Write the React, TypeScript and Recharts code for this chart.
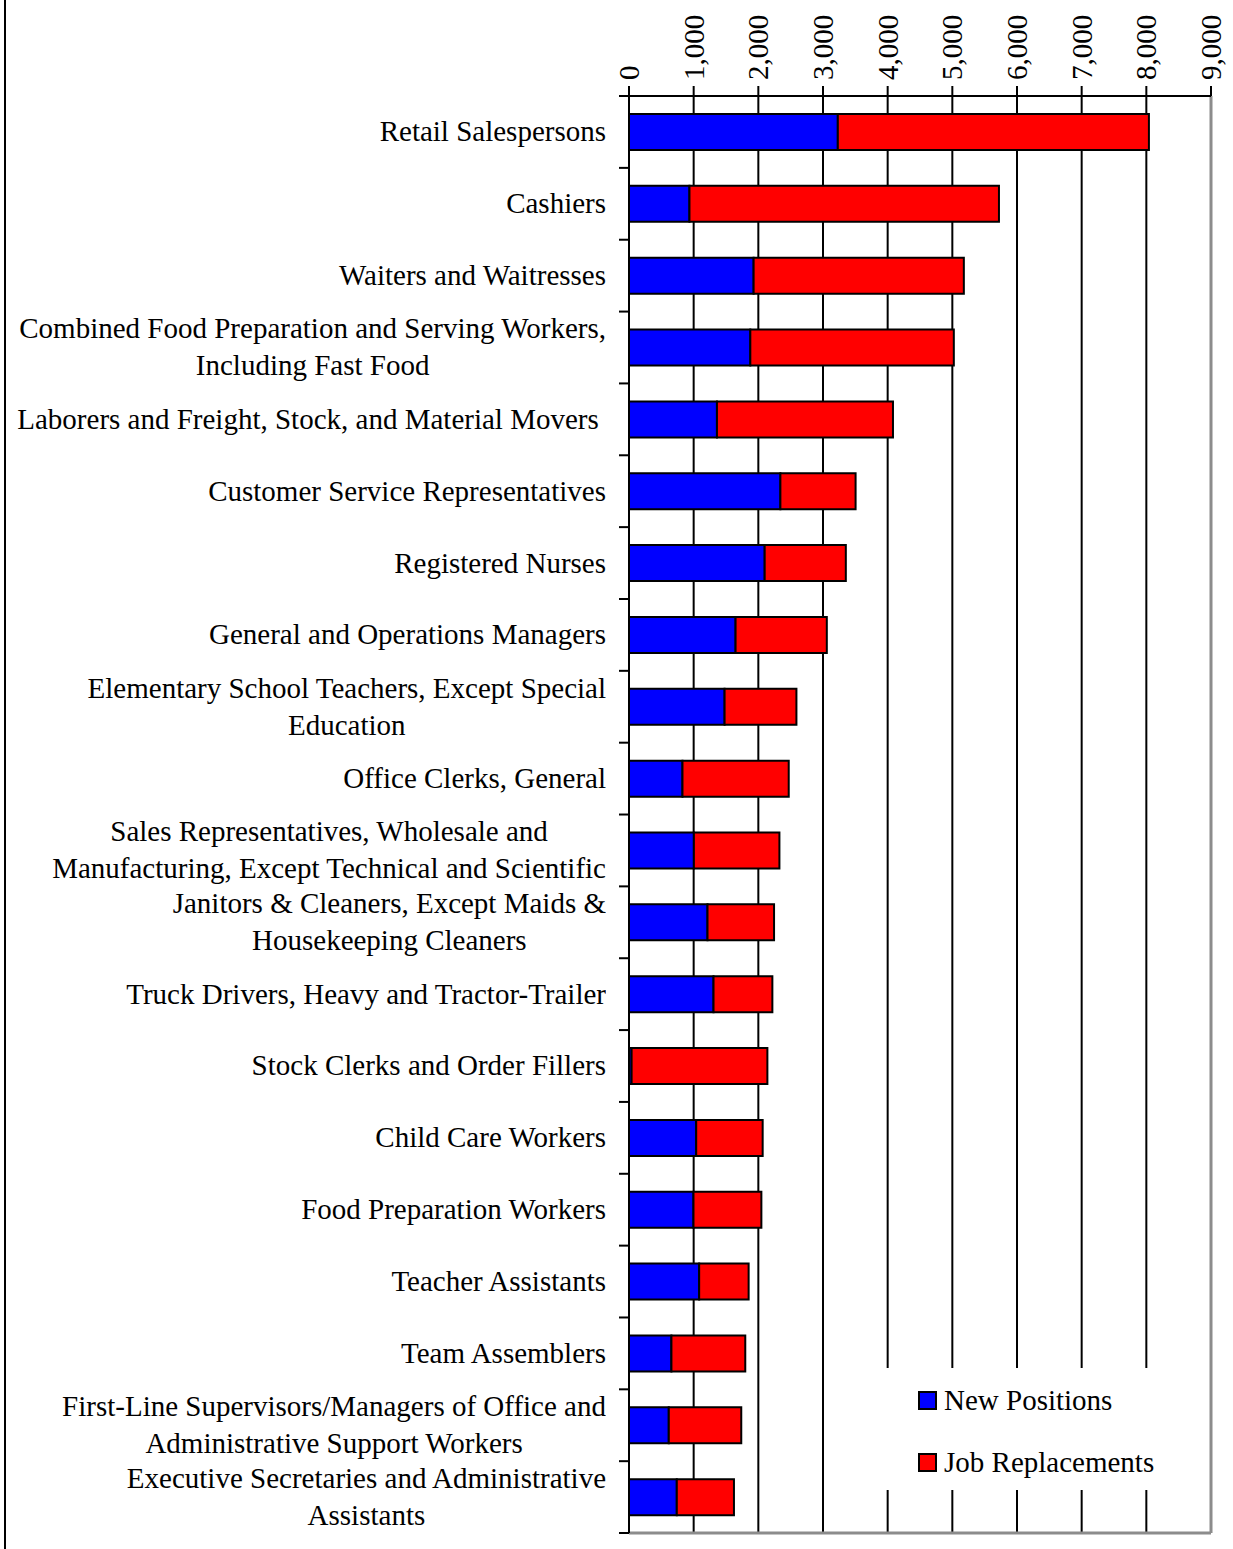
import React from "react";
import {
  BarChart,
  Bar,
  XAxis,
  YAxis,
  CartesianGrid,
  Legend,
  ReferenceLine,
} from "recharts";

const occupations = [
  "Retail Salespersons",
  "Cashiers",
  "Waiters and Waitresses",
  "Combined Food Preparation and Serving Workers,\nIncluding Fast Food",
  "Laborers and Freight, Stock, and Material Movers ",
  "Customer Service Representatives",
  "Registered Nurses",
  "General and Operations Managers",
  "Elementary School Teachers, Except Special\nEducation",
  "Office Clerks, General",
  "Sales Representatives, Wholesale and\nManufacturing, Except Technical and Scientific",
  "Janitors & Cleaners, Except Maids &\nHousekeeping Cleaners",
  "Truck Drivers, Heavy and Tractor-Trailer",
  "Stock Clerks and Order Fillers",
  "Child Care Workers",
  "Food Preparation Workers",
  "Teacher Assistants",
  "Team Assemblers",
  "First-Line Supervisors/Managers of Office and\nAdministrative Support Workers",
  "Executive Secretaries and Administrative\nAssistants",
];

const newPositions = [
  3229, 935, 1927, 1876, 1360, 2341, 2098, 1648, 1478, 827, 1003, 1214, 1307,
  40, 1039, 997, 1085, 656, 615, 739,
];

const jobReplacements = [
  4811, 4786, 3251, 3147, 2722, 1163, 1255, 1411, 1111, 1643, 1323, 1029, 910,
  2100, 1028, 1050, 765, 1142, 1121, 884,
];

const seriesNames = ["New Positions", "Job Replacements"];

const xTicks = [0, 1000, 2000, 3000, 4000, 5000, 6000, 7000, 8000, 9000];

const data = occupations.map((name, i) => ({
  name,
  nuevas: newPositions[i],
  reemplazos: jobReplacements[i],
}));

const FONT = '"Liberation Serif", "Times New Roman", serif';
const W = 1233;
const H = 1549;
const PLOT_LEFT = 629;
const PLOT_TOP = 96;
const PLOT_BOTTOM = 1534;
const BAND = (PLOT_BOTTOM - PLOT_TOP) / occupations.length;

const XTick = (props: any) => {
  const { x, y, payload } = props;
  const ty = y - 4;
  return (
    <text
      x={x}
      y={ty}
      transform={`rotate(-90, ${x}, ${ty})`}
      textAnchor="start"
      dy="0.35em"
      fontSize={29}
      fontFamily={FONT}
      fill="#000"
    >
      {Number(payload.value).toLocaleString("en-US")}
    </text>
  );
};

const YTick = (props: any) => {
  const { y, payload, index } = props;
  return (
    <g>
      {index === 0 && (
        <line x1={619} x2={PLOT_LEFT} y1={y - BAND / 2} y2={y - BAND / 2} stroke="#000" strokeWidth={2} />
      )}
      <line x1={619} x2={PLOT_LEFT} y1={y + BAND / 2} y2={y + BAND / 2} stroke="#000" strokeWidth={2} />
      <foreignObject x={0} y={y - 40} width={606} height={80}>
        <div
          style={{
            width: 606,
            height: 80,
            display: "flex",
            justifyContent: "flex-end",
            alignItems: "center",
          }}
        >
          <div
            style={{
              textAlign: "center",
              whiteSpace: "pre",
              fontFamily: FONT,
              fontSize: 29,
              lineHeight: "37px",
              color: "#000",
            }}
          >
            {payload.value}
          </div>
        </div>
      </foreignObject>
    </g>
  );
};

const LegendBox = (props: any) => {
  const items = [...(props.payload || [])].sort(
    (a: any, b: any) => seriesNames.indexOf(a.value) - seriesNames.indexOf(b.value)
  );
  return (
    <div style={{ position: "relative", width: 340, height: 122, background: "#fff" }}>
      {items.map((item: any, i: number) => (
        <div
          key={item.value}
          style={{
            position: "absolute",
            left: 56,
            top: 32 + i * 62 - 18,
            height: 36,
            display: "flex",
            alignItems: "center",
            fontFamily: FONT,
            fontSize: 29,
            color: "#000",
            whiteSpace: "nowrap",
          }}
        >
          <span
            style={{
              display: "inline-block",
              width: 15,
              height: 15,
              background: item.color,
              border: "2px solid #000",
              marginRight: 7,
            }}
          />
          {item.value}
        </div>
      ))}
    </div>
  );
};

export default function App() {
  return (
    <div style={{ position: "absolute", left: 0, top: 0, width: W, height: H, background: "#fff" }}>
      <div style={{ position: "absolute", left: 4, top: 0, width: 2, height: H, background: "#000" }} />
      <BarChart
        width={W}
        height={H}
        data={data}
        layout="vertical"
        barSize={36}
        margin={{ top: 0, right: W - 1211, bottom: H - PLOT_BOTTOM, left: 0 }}
      >
        <CartesianGrid horizontal={false} stroke="#000" strokeWidth={2} />
        <XAxis
          type="number"
          orientation="top"
          domain={[0, 9000]}
          ticks={xTicks}
          interval={0}
          height={PLOT_TOP}
          tickSize={10}
          tick={<XTick />}
          tickLine={{ stroke: "#000", strokeWidth: 2 }}
          axisLine={{ stroke: "#000", strokeWidth: 2 }}
        />
        <XAxis
          xAxisId="bottom"
          type="number"
          orientation="bottom"
          domain={[0, 9000]}
          height={1}
          tick={false}
          tickLine={false}
          axisLine={{ stroke: "#8c8c8c", strokeWidth: 3 }}
        />
        <YAxis
          type="category"
          dataKey="name"
          width={PLOT_LEFT}
          interval={0}
          tickLine={false}
          tick={<YTick />}
          axisLine={{ stroke: "#000", strokeWidth: 2 }}
        />
        <ReferenceLine x={9000} stroke="#8c8c8c" strokeWidth={3} />
        <Legend
          layout="horizontal"
          verticalAlign="middle"
          align="center"
          content={<LegendBox />}
          wrapperStyle={{ left: 862, top: 1368, width: 340, height: 122 }}
        />
        <Bar
          dataKey="nuevas"
          name={seriesNames[0]}
          stackId="a"
          fill="#0000ff"
          stroke="#000"
          strokeWidth={2}
          isAnimationActive={false}
        />
        <Bar
          dataKey="reemplazos"
          name={seriesNames[1]}
          stackId="a"
          fill="#ff0000"
          stroke="#000"
          strokeWidth={2}
          isAnimationActive={false}
        />
      </BarChart>
    </div>
  );
}
